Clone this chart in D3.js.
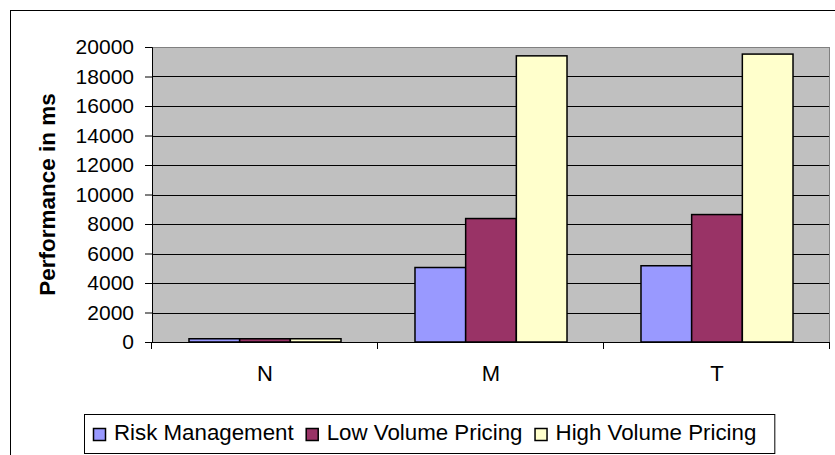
<!DOCTYPE html>
<html>
<head>
<meta charset="utf-8">
<script src="https://cdn.jsdelivr.net/npm/d3@7"></script>
<style>
  body { margin: 0; background: #fff; }
  text { font-family: "Liberation Sans", Arial, sans-serif; }
</style>
</head>
<body>
<div id="chart"></div>
<script>
const categories = ['N', 'M', 'T'];
const seriesNames = ['Risk Management', 'Low Volume Pricing', 'High Volume Pricing'];
const riskManagement = [220, 5050, 5170];
const lowVolumePricing = [220, 8370, 8640];
const highVolumePricing = [220, 19400, 19520];
const yTicks = [0, 2000, 4000, 6000, 8000, 10000, 12000, 14000, 16000, 18000, 20000];
const colors = ['#9999ff', '#993366', '#ffffcc'];

const seriesValues = [riskManagement, lowVolumePricing, highVolumePricing];

const W = 835, H = 455;
const margin = {top: 47, right: 5, bottom: 113, left: 152};
const width = W - margin.left - margin.right,
      height = H - margin.top - margin.bottom;

const svg = d3.select('#chart').append('svg')
    .attr('width', W)
    .attr('height', H);

// outer chart frame (runs off the right and bottom edges)
svg.append('rect')
    .attr('x', 10.5).attr('y', 10.5)
    .attr('width', 1000).attr('height', 1000)
    .attr('fill', 'none').attr('stroke', '#000');

const g = svg.append('g').attr('transform', `translate(${margin.left},${margin.top})`);

const x0 = d3.scaleBand().domain(categories).range([0, width]).padding(0);
const x1 = d3.scaleBand().domain(seriesNames).range([0, x0.bandwidth()])
    .paddingInner(0).paddingOuter(0.73);
const y = d3.scaleLinear().domain([0, 20000]).range([height, 0]);

g.append('rect')
    .attr('width', width).attr('height', height)
    .attr('fill', '#c0c0c0');

// gridlines (top one doubles as the grey plot border)
g.selectAll('.grid')
    .data(yTicks.filter(d => d > 0))
    .enter().append('line')
    .attr('x1', 0).attr('x2', width)
    .attr('y1', d => Math.round(y(d)) + 0.5)
    .attr('y2', d => Math.round(y(d)) + 0.5)
    .attr('stroke', d => d === 20000 ? '#808080' : '#000').attr('stroke-width', 1);

// right border of plot area
g.append('line')
    .attr('x1', width - 0.5).attr('x2', width - 0.5)
    .attr('y1', 0).attr('y2', height)
    .attr('stroke', '#808080');

// bars
categories.forEach((cat, i) => {
    seriesNames.forEach((s, j) => {
        const v = seriesValues[j][i];
        g.append('rect')
            .attr('x', x0(cat) + x1(s))
            .attr('y', y(v))
            .attr('width', x1.bandwidth())
            .attr('height', height - y(v))
            .attr('fill', colors[j])
            .attr('stroke', '#000')
            .attr('stroke-width', 1.5);
    });
});

// y axis
const yAxis = g.append('g')
    .call(d3.axisLeft(y).tickValues(yTicks).tickSize(7).tickPadding(11).tickFormat(d3.format('d')));
yAxis.select('.domain').attr('stroke', '#000');
yAxis.selectAll('text')
    .attr('font-size', 21)
    .attr('font-family', '"Liberation Sans", Arial, sans-serif')
    .attr('fill', '#000');

// x axis: ticks at category boundaries
const xAxis = g.append('g').attr('transform', `translate(0,${height})`);
xAxis.append('line')
    .attr('x1', 0).attr('x2', width)
    .attr('y1', 0.5).attr('y2', 0.5)
    .attr('stroke', '#000');
xAxis.selectAll('.tick')
    .data(categories.map(c => x0(c)).concat([width]))
    .enter().append('line')
    .attr('x1', d => Math.round(d) - 0.5).attr('x2', d => Math.round(d) - 0.5)
    .attr('y1', 0).attr('y2', 7)
    .attr('stroke', '#000');
xAxis.selectAll('.cat')
    .data(categories)
    .enter().append('text')
    .attr('x', d => x0(d) + x0.bandwidth() / 2)
    .attr('y', 39)
    .attr('text-anchor', 'middle')
    .attr('font-size', 22)
    .text(d => d);

// y axis title
svg.append('text')
    .attr('transform', `translate(55,${margin.top + height / 2}) rotate(-90)`)
    .attr('text-anchor', 'middle')
    .attr('font-size', 22.5)
    .attr('font-weight', 'bold')
    .text('Performance in ms');

// legend
const legend = svg.append('g');
let lx = 93;
seriesNames.forEach((s, j) => {
    const item = legend.append('g');
    item.append('rect')
        .attr('x', lx + 0.5).attr('y', 428.5)
        .attr('width', 12).attr('height', 12)
        .attr('fill', colors[j]).attr('stroke', '#000').attr('stroke-width', 1.5);
    const t = item.append('text')
        .attr('x', lx + 21).attr('y', 440)
        .attr('font-size', 22.3)
        .text(s);
    lx += 21 + t.node().getComputedTextLength() + 12;
});
legend.insert('rect', ':first-child')
    .attr('x', 84.5).attr('y', 414.5)
    .attr('width', lx - 84 + 6).attr('height', 39)
    .attr('fill', '#fff').attr('stroke', '#000');
</script>
</body>
</html>
